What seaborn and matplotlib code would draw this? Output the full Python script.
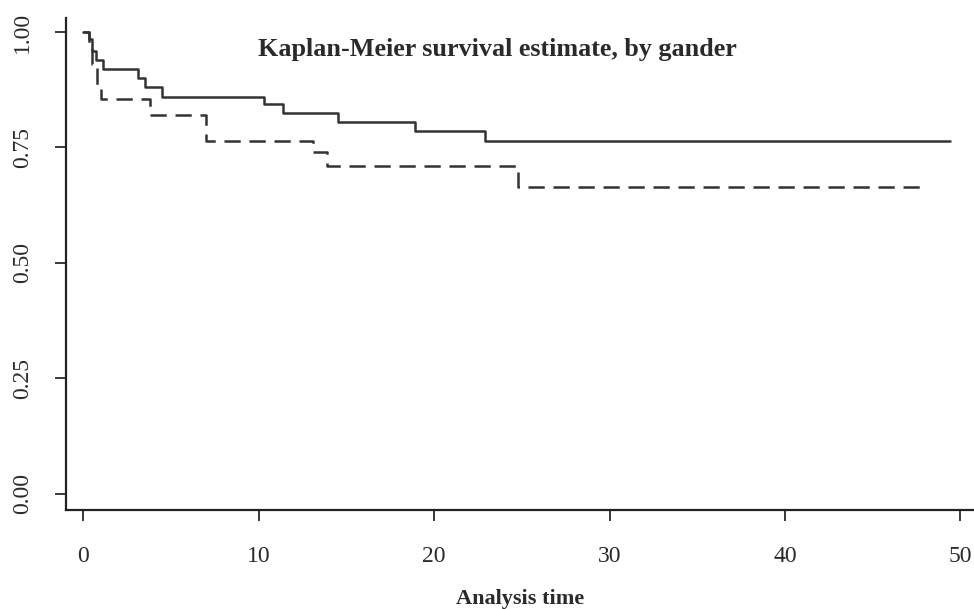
import matplotlib
matplotlib.use("Agg")
import matplotlib.pyplot as plt
import seaborn as sns
import pandas as pd

# Data (step functions, value holds from each time onward)
solid_time = [0, 0.3, 0.5, 0.7, 1.1, 3.1, 3.5, 4.5, 10.3, 11.4, 14.5, 18.9, 22.9, 49.4]
solid_surv = [1.00, 0.985, 0.96, 0.94, 0.92, 0.90, 0.88, 0.86, 0.845, 0.825, 0.805, 0.785, 0.765, 0.765]

dashed_time = [0, 0.3, 0.5, 0.8, 1.0, 3.8, 7.0, 13.1, 13.9, 24.8, 48.1]
dashed_surv = [1.00, 0.975, 0.93, 0.88, 0.855, 0.82, 0.765, 0.74, 0.71, 0.665, 0.665]

x_ticks = [0, 10, 20, 30, 40, 50]
y_ticks = [0.00, 0.25, 0.50, 0.75, 1.00]
y_tick_labels = ["0.00", "0.25", "0.50", "0.75", "1.00"]

title_text = "Kaplan-Meier survival estimate, by gander"
x_label = "Analysis time"

sns.set_theme(style="ticks")
plt.rcParams["font.family"] = ["Liberation Serif", "DejaVu Serif"]

fig = plt.figure(figsize=(9.74, 6.09), dpi=100)
ax = fig.add_axes([0.068, 0.163, 0.932, 0.807])

line_color = "#333333"
text_color = "#2a2a2a"
df_s = pd.DataFrame({"t": solid_time, "s": solid_surv})
df_d = pd.DataFrame({"t": dashed_time, "s": dashed_surv})
sns.lineplot(data=df_s, x="t", y="s", ax=ax, color=line_color, linewidth=1.8,
             drawstyle="steps-post", estimator=None, sort=False)
sns.lineplot(data=df_d, x="t", y="s", ax=ax, color=line_color, linewidth=1.8,
             drawstyle="steps-post", estimator=None, sort=False,
             linestyle=(0, (6.5, 3.5)))

ax.set_xlim(-0.97, 50.77)
ax.set_ylim(-0.035, 1.03)
ax.set_xticks(x_ticks)
ax.set_xticklabels([str(v) for v in x_ticks])
ax.set_yticks(y_ticks)
ax.set_yticklabels(y_tick_labels, rotation=90, va="center")

for side in ["top", "right"]:
    ax.spines[side].set_visible(False)
for side in ["left", "bottom"]:
    ax.spines[side].set_color("#222222")
    ax.spines[side].set_linewidth(1.6)

ax.tick_params(axis="x", direction="out", length=8, width=1.3, colors=text_color,
               labelsize=17, pad=18)
ax.tick_params(axis="y", direction="out", length=8, width=1.3, colors=text_color,
               labelsize=17, pad=16)

ax.set_xlabel(x_label, fontsize=16, fontweight="bold", color=text_color, labelpad=16)
ax.set_ylabel("")
ax.text(23.6, 0.962, title_text, ha="center", va="center", fontsize=18.8,
        fontweight="bold", color=text_color)

fig.savefig("out.png", dpi=100)
